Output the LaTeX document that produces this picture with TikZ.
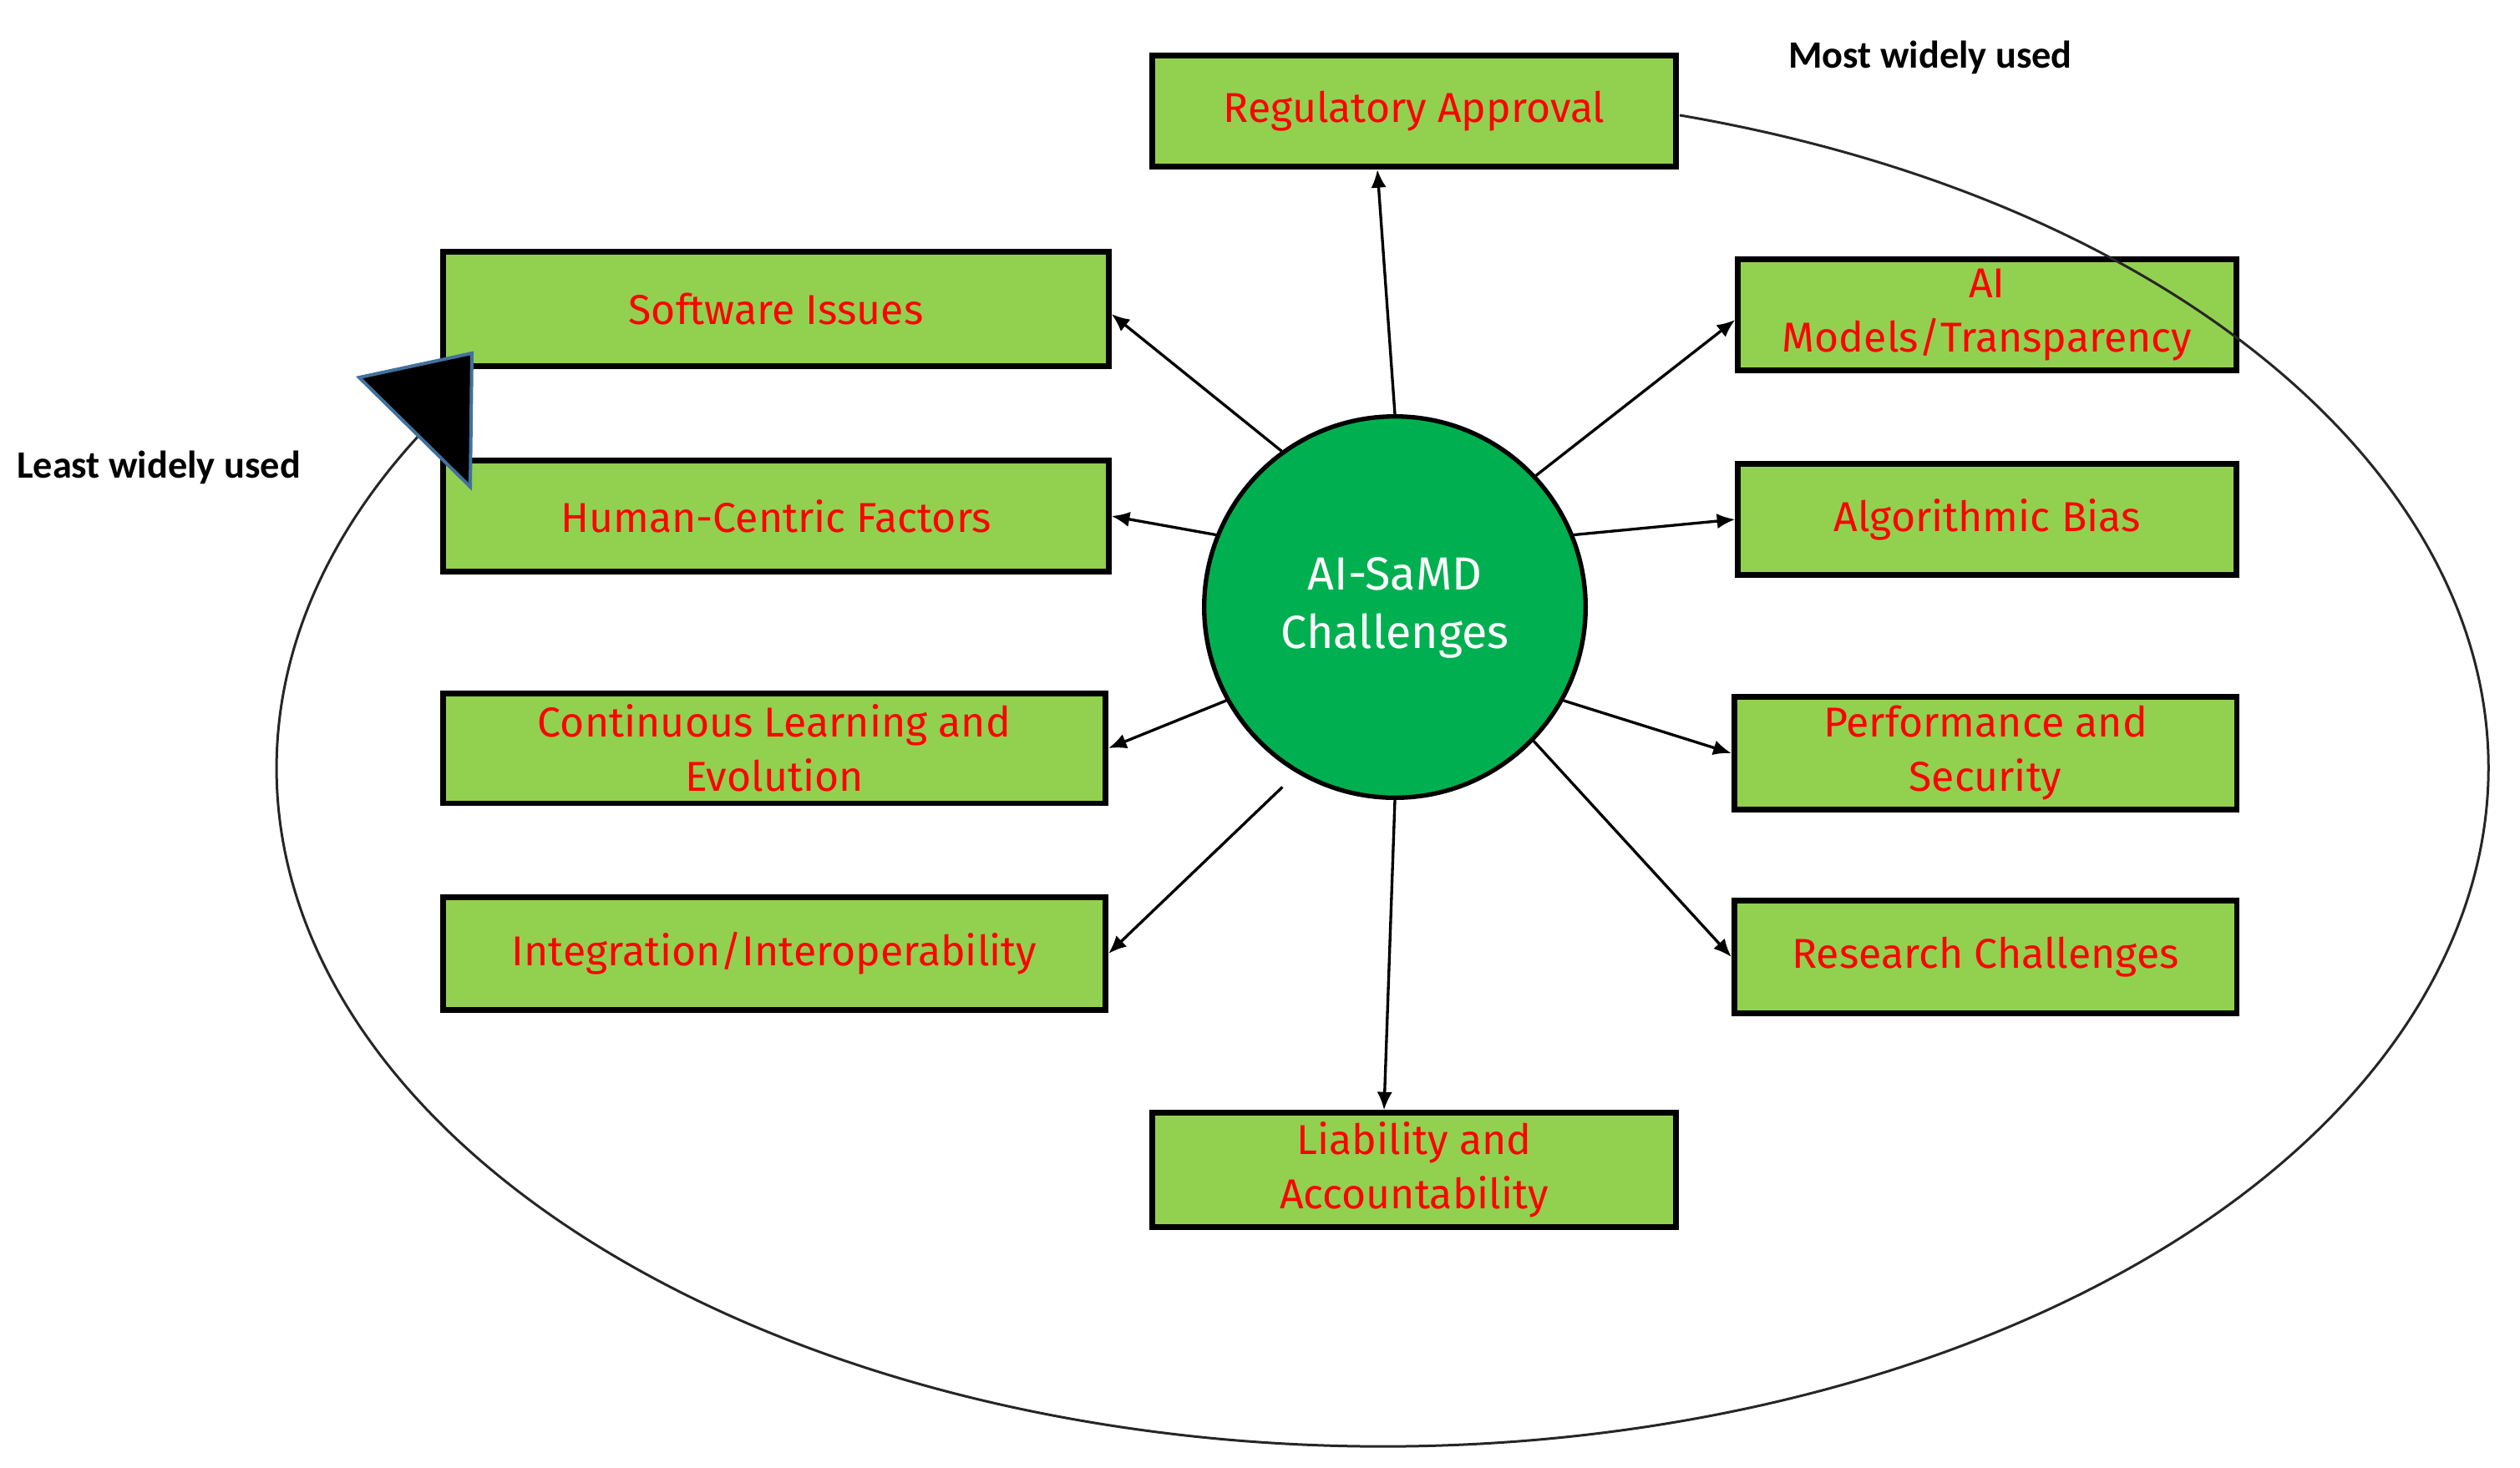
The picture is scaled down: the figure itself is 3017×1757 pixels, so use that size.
\documentclass[tikz,border=0pt]{standalone}
\usepackage{fontspec}
\setmainfont{Fira Sans}
\newfontfamily\labelfont{Carlito}
\usetikzlibrary{arrows.meta,calc}
\definecolor{boxgreen}{HTML}{92D050}
\definecolor{circgreen}{HTML}{00B050}
\definecolor{tipblue}{HTML}{41719C}
\begin{document}
\begin{tikzpicture}[x=0.3pt,y=-0.3pt,
  box/.style={draw=black,line width=2pt,fill=boxgreen,text=red,
    font=\fontsize{15}{19.5}\selectfont,align=center,inner sep=0pt},
  arr/.style={line width=1pt,-{Latex[length=6.5pt,width=5.5pt]}},
  lbl/.style={font=\labelfont\bfseries\fontsize{13.9}{17}\selectfont,text=black},
]
\useasboundingbox (0,0) rectangle (3017,1757);
% boxes
\node[box,minimum width=188pt,minimum height=40pt] (reg) at (1693,133) {Regulatory Approval};
\node[box,minimum width=239pt,minimum height=41pt] (soft) at (929,370) {Software Issues};
\node[box,minimum width=239pt,minimum height=40pt] (hum) at (929,618) {Human-Centric Factors};
\node[box,minimum width=238pt,minimum height=39.5pt] (cont) at (927,896) {Continuous Learning and\\Evolution};
\node[box,minimum width=238pt,minimum height=40.5pt] (integ) at (927,1142) {Integration/Interoperability};
\node[box,minimum width=179pt,minimum height=40pt] (aim) at (2379,377) {AI\\Models/Transparency};
\node[box,minimum width=179pt,minimum height=40pt] (alg) at (2379,622) {Algorithmic Bias};
\node[box,minimum width=180.5pt,minimum height=40.5pt] (perf) at (2377,902) {Performance and\\Security};
\node[box,minimum width=180.5pt,minimum height=40.5pt] (res) at (2377,1146) {Research Challenges};
\node[box,minimum width=188pt,minimum height=41pt] (liab) at (1693,1401) {Liability and\\Accountability};
% centre circle
\node[circle,draw=black,line width=1.6pt,fill=circgreen,minimum size=137pt,inner sep=0pt,
  text=white,font=\fontsize{16.7}{22}\selectfont] (c) at (1670,727)
  {\raisebox{-2.5pt}{\begin{tabular}{@{}c@{}}AI-SaMD\\[-1pt]Challenges\end{tabular}}};
% connectors
\draw[arr] (c.90) -- ($(reg.south)+(-44,0)$);
\draw[arr] (c.126) -- ($(soft.east)+(0,6)$);
\draw[arr] (c.158) -- (hum.east);
\draw[arr] (c.209) -- (cont.east);
\draw[arr] ($(c)!1.1!(c.238)$) -- (integ.east);
\draw[arr] (c.270) -- ($(liab.north)+(-36,0)$);
\draw[arr] (c.-44) -- (res.west);
\draw[arr] (c.-29) -- (perf.west);
\draw[arr] (c.22) -- (alg.west);
\draw[arr] (c.43.6) -- ($(aim.west)+(0,6)$);
% ellipse arc
\coordinate (ec) at (1655,920);
\draw[line width=0.9pt,black!85] ([shift={(74.4:397.2pt and 243.6pt)}]ec)
  arc[start angle=74.4,end angle=-209.7,x radius=397.2pt,y radius=243.6pt] coordinate (aend);
% big arrow head
\coordinate (t1) at (430,452);
\coordinate (t2) at (565,423);
\coordinate (t3) at (563,583);
\filldraw[fill=black,draw=tipblue,line width=1.2pt,line join=miter] (t1) -- (t2) -- (t3) -- cycle;
% labels
\node[lbl] (most) at (2311,69) {Most widely used};
\node[lbl] (least) at (190,560) {Least widely used};
\end{tikzpicture}
\end{document}
